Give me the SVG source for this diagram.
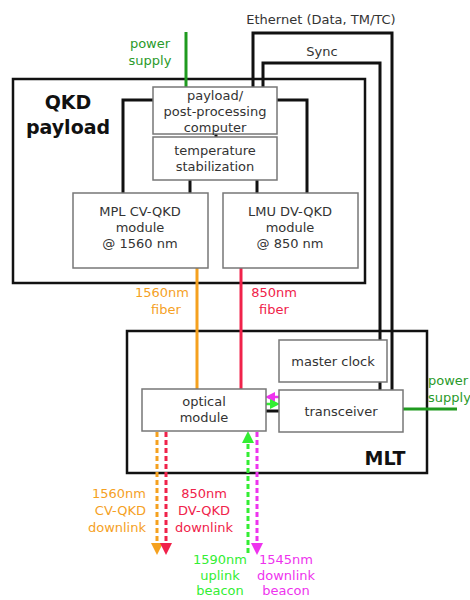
<svg xmlns="http://www.w3.org/2000/svg" width="470" height="600" viewBox="0 0 470 600">
<defs>
<style>
text{font-family:"DejaVu Sans",Verdana,sans-serif;font-size:13px;fill:#333;text-anchor:middle}
.big{font-size:19px;font-weight:bold;fill:#111}
.box{fill:#fff;stroke:#777;stroke-width:1.5}
.outer{fill:#fff;stroke:#111;stroke-width:2.5}
.blk{fill:none;stroke:#111;stroke-width:3}
.or{fill:#f5a11f}.rd{fill:#f0224a}.lg{fill:#33ee33}.mg{fill:#ee33ee}
.pw{fill:#2a9a2a}
</style>
<marker id="aor" markerWidth="4" markerHeight="4" refX="2" refY="2" orient="auto" markerUnits="strokeWidth"><path d="M0,0L4,2L0,4z" fill="#f5a11f"/></marker>
<marker id="ard" markerWidth="4" markerHeight="4" refX="2" refY="2" orient="auto" markerUnits="strokeWidth"><path d="M0,0L4,2L0,4z" fill="#f0224a"/></marker>
<marker id="alg" markerWidth="4" markerHeight="4" refX="2" refY="2" orient="auto" markerUnits="strokeWidth"><path d="M0,0L4,2L0,4z" fill="#33ee33"/></marker>
<marker id="amg" markerWidth="4" markerHeight="4" refX="2" refY="2" orient="auto" markerUnits="strokeWidth"><path d="M0,0L4,2L0,4z" fill="#ee33ee"/></marker>
</defs>
<rect width="470" height="600" fill="#fff"/>

<g id="qkd-payload">
<rect class="outer" x="13" y="79" width="352" height="204"/>
<text class="big" x="68" y="109">QKD</text>
<text class="big" x="68" y="134">payload</text>
</g>

<g id="mlt">
<rect class="outer" x="127" y="331" width="300" height="142"/>
<text class="big" x="385" y="465">MLT</text>
</g>

<g id="connectors">
<path class="blk" d="M253,87V33H392V390"/>
<path class="blk" d="M263,87V63H380V390"/>
<path class="blk" d="M153,100H123V193"/>
<path class="blk" d="M277,100H307V193"/>
<path class="blk" d="M190,180V193"/>
<path class="blk" d="M257,180V193"/>
<path class="blk" d="M216,134V137"/>
<path d="M186,32V87" fill="none" stroke="#1f9a1f" stroke-width="3"/>
<path d="M403,409H457" fill="none" stroke="#1f9a1f" stroke-width="3"/>
<path d="M197,268V389" fill="none" stroke="#f5a11f" stroke-width="3"/>
<path d="M241,268V389" fill="none" stroke="#f0224a" stroke-width="3"/>
<path d="M279,397H270" fill="none" stroke="#ee33ee" stroke-width="2.5" stroke-dasharray="4 2" marker-end="url(#amg)"/>
<path d="M266,404H275" fill="none" stroke="#33ee33" stroke-width="2.5" stroke-dasharray="4 2" marker-end="url(#alg)"/>
<path d="M266,411H279" fill="none" stroke="#111" stroke-width="3"/>
<path d="M157,432V549" fill="none" stroke="#f5a11f" stroke-width="3" stroke-dasharray="5 3" marker-end="url(#aor)"/>
<path d="M166,432V549" fill="none" stroke="#f0224a" stroke-width="3" stroke-dasharray="5 3" marker-end="url(#ard)"/>
<path d="M248,553V437" fill="none" stroke="#33ee33" stroke-width="3" stroke-dasharray="5 3" marker-end="url(#alg)"/>
<path d="M257,432V549" fill="none" stroke="#ee33ee" stroke-width="3" stroke-dasharray="5 3" marker-end="url(#amg)"/>
</g>

<g id="computer">
<rect class="box" x="153" y="87" width="124" height="47"/>
<text x="215" y="100">payload/</text>
<text x="215" y="116">post-processing</text>
<text x="215" y="132">computer</text>
</g>

<g id="temperature">
<rect class="box" x="153" y="137" width="124" height="43"/>
<text x="215" y="155">temperature</text>
<text x="215" y="171">stabilization</text>
</g>

<g id="mpl">
<rect class="box" x="73" y="193" width="135" height="75"/>
<text x="140" y="216">MPL CV-QKD</text>
<text x="140" y="232">module</text>
<text x="140" y="248">@ 1560 nm</text>
</g>

<g id="lmu">
<rect class="box" x="223" y="193" width="135" height="75"/>
<text x="290" y="216">LMU DV-QKD</text>
<text x="290" y="232">module</text>
<text x="290" y="248">@ 850 nm</text>
</g>

<g id="master-clock">
<rect class="box" x="279" y="340" width="108" height="42"/>
<text x="333" y="366">master clock</text>
</g>

<g id="transceiver">
<rect class="box" x="279" y="390" width="124" height="42"/>
<text x="341" y="416">transceiver</text>
</g>

<g id="optical-module">
<rect class="box" x="142" y="389" width="124" height="42"/>
<text x="204" y="406">optical</text>
<text x="204" y="422">module</text>
</g>

<g id="labels">
<text x="321" y="24">Ethernet (Data, TM/TC)</text>
<text x="322" y="56">Sync</text>
<text class="pw" x="150" y="48">power</text>
<text class="pw" x="150" y="65">supply</text>
<text class="pw" x="428" y="385" style="text-anchor:start">power</text>
<text class="pw" x="428" y="402" style="text-anchor:start">supply</text>
<text class="or" x="162" y="297">1560nm</text>
<text class="or" x="166" y="314">fiber</text>
<text class="rd" x="274" y="297">850nm</text>
<text class="rd" x="274" y="314">fiber</text>
<text class="or" x="146" y="498" style="text-anchor:end">1560nm</text>
<text class="or" x="146" y="515" style="text-anchor:end">CV-QKD</text>
<text class="or" x="146" y="532" style="text-anchor:end">downlink</text>
<text class="rd" x="204" y="498">850nm</text>
<text class="rd" x="204" y="515">DV-QKD</text>
<text class="rd" x="204" y="532">downlink</text>
<text class="lg" x="220" y="564">1590nm</text>
<text class="lg" x="220" y="580">uplink</text>
<text class="lg" x="220" y="595">beacon</text>
<text class="mg" x="286" y="564">1545nm</text>
<text class="mg" x="286" y="580">downlink</text>
<text class="mg" x="286" y="595">beacon</text>
</g>
</svg>
